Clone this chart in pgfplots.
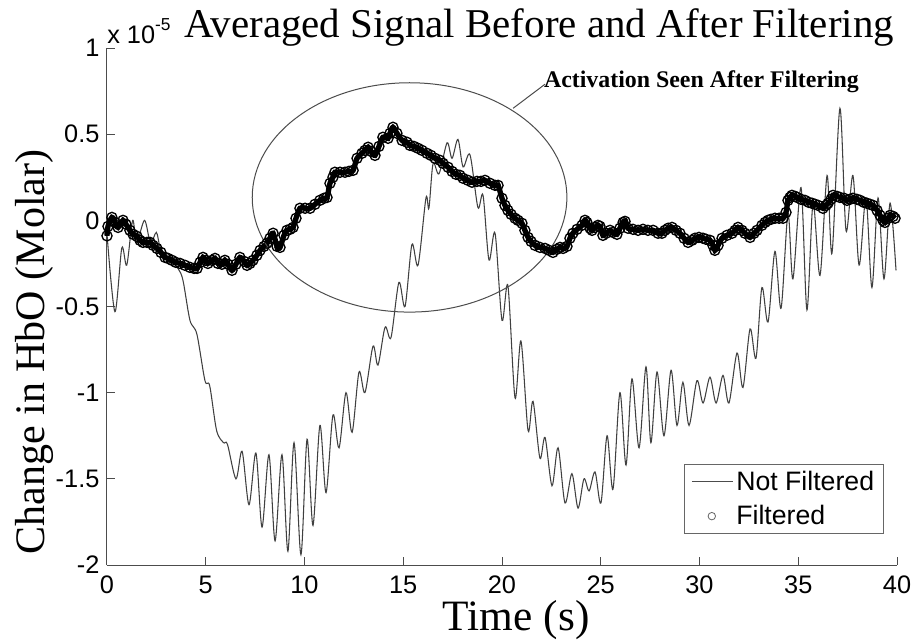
\documentclass[border=0pt]{standalone}
\usepackage{fontspec}
\setmainfont{Liberation Serif}
\newfontfamily\arial{Liberation Sans}
\usepackage{pgfplots}
\usepackage{pgfplotstable}
\pgfplotsset{compat=1.18}
\pgfplotstableread{
x y
0.00 -0.09
0.05 -0.035
0.25 0.017
0.41 -0.012
0.56 -0.041
0.81 0.0
0.96 -0.023
1.16 -0.058
1.32 -0.081
1.52 -0.093
1.67 -0.116
1.82 -0.128
2.03 -0.128
2.18 -0.128
2.33 -0.145
2.53 -0.163
2.73 -0.186
2.94 -0.215
3.09 -0.221
3.29 -0.232
3.49 -0.244
3.70 -0.250
3.95 -0.261
4.20 -0.273
4.41 -0.279
4.56 -0.279
4.71 -0.244
4.86 -0.215
5.01 -0.232
5.11 -0.250
5.32 -0.232
5.47 -0.221
5.62 -0.250
5.82 -0.255
5.97 -0.232
6.13 -0.255
6.33 -0.290
6.53 -0.255
6.73 -0.215
6.94 -0.238
7.09 -0.261
7.24 -0.250
7.39 -0.232
7.59 -0.203
7.75 -0.174
7.95 -0.151
8.10 -0.133
8.25 -0.104
8.41 -0.075
8.61 -0.151
8.76 -0.157
8.96 -0.087
9.11 -0.058
9.27 -0.052
9.42 -0.041
9.57 0.012
9.77 0.070
10.03 0.070
10.28 0.070
10.53 0.093
10.78 0.116
10.99 0.128
11.14 0.133
11.29 0.215
11.44 0.250
11.54 0.279
11.80 0.279
12.05 0.279
12.25 0.284
12.46 0.290
12.66 0.360
12.91 0.389
13.06 0.406
13.22 0.424
13.37 0.400
13.57 0.377
13.77 0.429
13.97 0.482
14.23 0.476
14.33 0.505
14.48 0.540
14.68 0.505
14.94 0.464
15.19 0.453
15.34 0.435
15.54 0.429
15.75 0.418
15.95 0.406
16.20 0.389
16.40 0.377
16.61 0.360
16.86 0.348
17.01 0.331
17.27 0.308
17.47 0.284
17.67 0.267
17.87 0.261
18.03 0.244
18.28 0.232
18.48 0.221
18.73 0.226
18.94 0.226
19.14 0.232
19.39 0.215
19.65 0.203
19.80 0.203
20.00 0.128
20.15 0.087
20.30 0.058
20.46 0.035
20.66 0.012
20.81 0.0
21.01 -0.017
21.16 -0.058
21.32 -0.099
21.47 -0.122
21.67 -0.145
21.92 -0.157
22.18 -0.163
22.38 -0.174
22.58 -0.186
22.78 -0.168
22.94 -0.157
23.09 -0.163
23.29 -0.151
23.44 -0.104
23.59 -0.075
23.80 -0.052
24.05 -0.029
24.20 0.0
24.30 -0.012
24.46 -0.046
24.56 -0.058
24.71 -0.041
24.86 -0.029
24.96 -0.035
25.11 -0.087
25.27 -0.075
25.47 -0.058
25.62 -0.070
25.82 -0.081
25.97 -0.046
26.13 -0.012
26.23 -0.006
26.38 -0.046
26.63 -0.052
26.89 -0.058
27.14 -0.052
27.39 -0.058
27.65 -0.058
27.90 -0.075
28.10 -0.075
28.25 -0.058
28.41 -0.046
28.61 -0.041
28.81 -0.058
29.01 -0.075
29.22 -0.104
29.42 -0.128
29.62 -0.116
29.77 -0.104
29.97 -0.099
30.18 -0.104
30.33 -0.110
30.53 -0.116
30.68 -0.145
30.78 -0.174
30.94 -0.145
31.14 -0.104
31.39 -0.087
31.65 -0.075
31.80 -0.058
31.95 -0.041
32.15 -0.058
32.30 -0.075
32.56 -0.099
32.76 -0.075
32.91 -0.058
33.16 -0.029
33.32 -0.012
33.47 0.0
33.62 0.006
33.82 0.012
34.03 0.012
34.23 0.012
34.38 0.046
34.48 0.116
34.58 0.133
34.68 0.145
34.84 0.139
34.94 0.133
35.14 0.122
35.34 0.116
35.54 0.104
35.70 0.099
35.85 0.093
36.00 0.087
36.25 0.070
36.41 0.087
36.51 0.099
36.66 0.122
36.76 0.145
36.96 0.139
37.11 0.133
37.32 0.128
37.47 0.116
37.62 0.122
37.77 0.128
37.97 0.122
38.13 0.116
38.33 0.104
38.48 0.099
38.63 0.093
38.78 0.087
38.99 0.058
39.14 0.029
39.29 0.0
39.39 -0.012
39.54 0.012
39.65 0.029
39.80 0.023
39.90 0.012
}\filtered
\begin{document}
\begin{tikzpicture}
\begin{axis}[
  scale only axis,
  width=592.5pt, height=387.75pt,
  xmin=0, xmax=40, ymin=-2, ymax=1,
  axis x line*=bottom, axis y line*=left,
  axis line style={black!70, line width=0.75pt},
  tick style={black!70, line width=0.75pt},
  tick align=inside,
  major tick length=6pt,
  xtick={0,5,10,15,20,25,30,35,40},
  xticklabels={0,5,10,15,20,25,30,35,40},
  ytick={-2,-1.5,-1,-0.5,0,0.5,1},
  yticklabels={-2,-1.5,-1,-0.5,0,0.5,1},
  ticklabel style={font=\arial\fontsize{19}{22}\selectfont, inner sep=0pt},
  xticklabel style={yshift=-8pt},
  yticklabel style={xshift=-5.5pt},
  title={Averaged Signal Before and After Filtering},
  title style={at={(axis description cs:0.547,1)}, anchor=base, yshift=1.9pt, inner sep=0pt, font=\fontsize{30.7}{34}\selectfont},
  xlabel={Time (s)},
  xlabel style={at={(axis description cs:0.518,0)}, anchor=north, yshift=-26.5pt, inner sep=0pt, font=\fontsize{32.5}{36}\selectfont},
  ylabel={Change in HbO (Molar)},
  ylabel style={at={(axis description cs:-0.0675,0.412)}, anchor=south, inner sep=0pt, font=\fontsize{31.5}{36}\selectfont},
  legend style={at={(rel axis cs:0.9835,0.06)}, anchor=south east,
    font=\arial\fontsize{20}{23}\selectfont, draw=black!60, line width=0.75pt,
    inner xsep=5pt, inner ysep=3pt, row sep=6pt, cells={anchor=west}},
  clip=false,
]
\coordinate (O) at (rel axis cs:0,0);
\addplot[black!75, line width=0.8pt, smooth, tension=0.5,
  legend image code/.code={\draw[black!70, line width=0.75pt] (0pt,0pt) -- (31pt,0pt);}]
coordinates {
(0.0,-0.08) (0.4,-0.53) (0.75,-0.16) (1.0,-0.26) (1.3,0.0) (1.5,-0.13) (1.9,0.0) (2.2,-0.13)
(2.5,-0.07) (2.7,-0.16) (3.1,-0.22) (3.6,-0.28) (3.85,-0.35) (4.2,-0.58) (4.55,-0.66)
(4.96,-0.93) (5.2,-0.96) (5.55,-1.22) (5.9,-1.29) (6.1,-1.30)
(6.53,-1.50) (6.84,-1.34) (7.19,-1.65) (7.54,-1.35) (7.85,-1.78) (8.20,-1.36) (8.51,-1.86)
(8.86,-1.36) (9.16,-1.92) (9.47,-1.29) (9.82,-1.94) (10.13,-1.27) (10.43,-1.77) (10.78,-1.19)
(11.09,-1.58) (11.44,-1.13) (11.75,-1.32) (12.10,-1.00) (12.41,-1.23) (12.76,-0.88)
(13.06,-1.00) (13.47,-0.73) (13.72,-0.84) (14.08,-0.62) (14.38,-0.68) (14.78,-0.36)
(15.09,-0.50) (15.44,-0.14) (15.75,-0.26) (16.15,0.13) (16.30,0.07) (16.51,0.33)
(16.81,0.27) (17.22,0.45) (17.47,0.36) (17.77,0.47) (18.03,0.31) (18.38,0.38)
(18.78,0.075) (19.04,0.145) (19.34,-0.23) (19.65,-0.075) (20.0,-0.58) (20.30,-0.38)
(20.66,-1.03) (20.96,-0.70) (21.32,-1.22) (21.57,-1.05) (21.92,-1.38) (22.18,-1.26)
(22.53,-1.54) (22.84,-1.32) (23.19,-1.64) (23.54,-1.47) (23.85,-1.67) (24.15,-1.50)
(24.41,-1.57) (24.71,-1.46) (25.01,-1.64) (25.32,-1.25) (25.62,-1.56) (25.97,-1.00)
(26.28,-1.42) (26.58,-0.92) (26.94,-1.32) (27.29,-0.85) (27.54,-1.29) (27.85,-0.88)
(28.20,-1.25) (28.56,-0.87) (28.86,-1.19) (29.16,-0.94) (29.47,-1.19) (29.87,-0.93)
(30.18,-1.06) (30.53,-0.91) (30.84,-1.06) (31.19,-0.90) (31.49,-1.06) (31.90,-0.77)
(32.20,-0.97) (32.56,-0.63) (32.86,-0.80) (33.16,-0.39) (33.47,-0.59) (33.82,-0.18)
(34.13,-0.51) (34.48,0.04) (34.73,-0.34) (35.14,0.19) (35.44,-0.52) (35.75,0.10)
(36.10,-0.32) (36.46,0.26) (36.71,-0.19) (37.11,0.65) (37.42,-0.06) (37.77,0.26)
(38.08,-0.26) (38.43,0.13) (38.73,-0.39) (39.04,0.13) (39.34,-0.34) (39.65,0.10) (39.95,-0.29)
};
\addlegendentry{Not Filtered}
\addplot[black, line width=4pt, smooth, forget plot] table[x=x, y=y] {\filtered};
\addplot[only marks, mark=o, mark size=3.8pt, black, mark options={line width=1pt},
  legend image code/.code={\draw[black!60, line width=0.6pt] (15pt,0pt) circle (2.8pt);}]
  table[x=x, y=y] {\filtered};
\addlegendentry{Filtered}
\draw[black!70, line width=0.75pt] (axis cs:15.32,0.133) ellipse [x radius=118pt, y radius=86pt];
\draw[black!70, line width=0.75pt] (axis cs:20.56,0.65) -- (axis cs:22.18,0.79);
\node[font=\bfseries\fontsize{17.9}{20}\selectfont, inner sep=0pt] at (axis cs:30.1,0.807) {Activation Seen After Filtering};
\node[anchor=base west, inner sep=0pt, font=\arial\fontsize{19}{22}\selectfont] at ([yshift=3.75pt]rel axis cs:0,1) {x 10\raisebox{0.5em}{\fontsize{13}{15}\selectfont -5}};
\end{axis}
\pgfresetboundingbox
\path (O) ++(-80.25pt,-56.25pt) rectangle ++(685.5pt,480pt);
\end{tikzpicture}
\end{document}
